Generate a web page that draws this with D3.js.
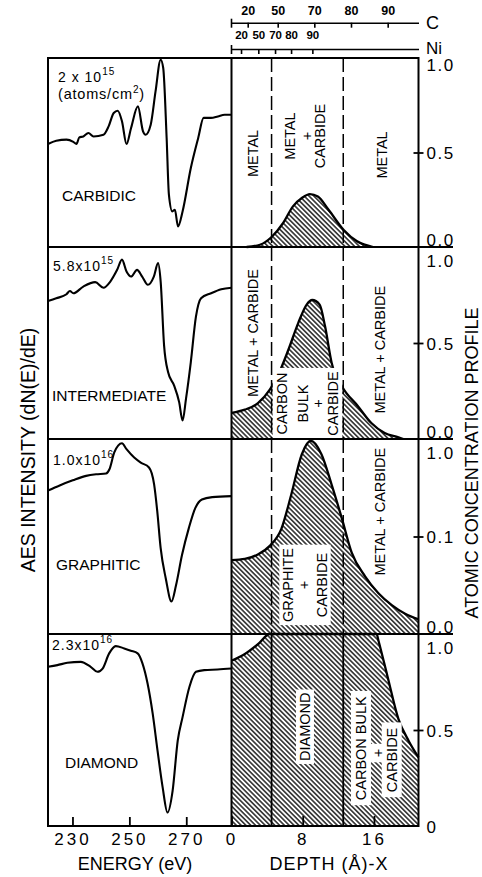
<!DOCTYPE html>
<html>
<head>
<meta charset="utf-8">
<script src="https://cdn.jsdelivr.net/npm/d3@7"></script>
<style>
  body { margin: 0; background: #fff; }
  svg { display: block; }
  text { font-family: "Liberation Sans", Arial, sans-serif; fill: #000; }
</style>
</head>
<body>
<script>
const w = 482;
const h = 877;

// ---- data ----
const panelNames = ['CARBIDIC', 'INTERMEDIATE', 'GRAPHITIC', 'DIAMOND'];
const doseLabels = [['2 x 10', '15'], ['5.8x10', '15'], ['1.0x10', '16'], ['2.3x10', '16']];

// AES spectra: [energy (eV), relative dN(E)/dE]
const carbidicSpectrum = [
  [221.4, 0.545], [224.3, 0.562], [227.9, 0.568], [230.3, 0.556], [231.4, 0.545],
  [232.4, 0.58], [233.8, 0.585], [235.6, 0.603], [237.4, 0.585], [240.9, 0.594],
  [242.7, 0.638], [244.5, 0.709], [245.9, 0.721], [247.4, 0.665], [249.0, 0.545],
  [250.6, 0.63], [253.0, 0.744], [254.8, 0.612], [255.7, 0.594], [257.5, 0.647],
  [259.2, 0.823], [261.0, 0.991], [261.9, 0.947], [263.1, 0.577], [263.9, 0.277],
  [265.1, 0.188], [266.0, 0.197], [267.1, 0.109], [268.7, 0.188], [271.6, 0.418],
  [274.2, 0.577], [276.1, 0.683], [278.7, 0.683], [281.1, 0.691], [283.5, 0.7],
  [285.9, 0.7]
];
const intermediateSpectrum = [
  [221.4, 0.719], [224.3, 0.733], [227.9, 0.754], [229.1, 0.771], [230.3, 0.759],
  [233.8, 0.794], [238.0, 0.817], [240.9, 0.788], [243.3, 0.82], [245.7, 0.881],
  [247.4, 0.934], [249.0, 0.872], [250.6, 0.846], [252.7, 0.881], [254.5, 0.846],
  [256.5, 0.803], [258.6, 0.846], [260.1, 0.916], [261.0, 0.82], [262.2, 0.488],
  [263.6, 0.349], [265.7, 0.279], [267.5, 0.192], [268.7, 0.096], [269.9, 0.209],
  [271.6, 0.401], [273.4, 0.637], [275.2, 0.733], [278.7, 0.759], [282.3, 0.78],
  [285.9, 0.788]
];
const graphiticSpectrum = [
  [221.4, 0.736], [225.5, 0.762], [230.1, 0.788], [234.8, 0.811], [238.3, 0.819],
  [241.8, 0.823], [243.0, 0.845], [244.7, 0.931], [247.4, 0.978], [249.0, 0.948],
  [251.7, 0.905], [254.0, 0.879], [256.9, 0.854], [258.7, 0.767], [259.8, 0.63],
  [261.0, 0.44], [262.8, 0.285], [264.8, 0.167], [266.4, 0.25], [268.5, 0.405],
  [270.9, 0.543], [273.2, 0.647], [275.5, 0.69], [279.1, 0.702], [285.9, 0.707]
];
const diamondSpectrum = [
  [221.4, 0.829], [224.7, 0.838], [228.2, 0.85], [232.9, 0.855], [236.4, 0.829],
  [238.8, 0.803], [240.6, 0.82], [242.9, 0.899], [245.2, 0.937], [248.2, 0.925],
  [250.5, 0.913], [252.9, 0.899], [254.6, 0.847], [256.4, 0.742], [258.2, 0.585],
  [259.9, 0.393], [261.7, 0.201], [263.4, 0.07], [265.2, 0.183], [267.0, 0.445],
  [268.7, 0.567], [271.1, 0.724], [273.4, 0.803], [276.3, 0.812], [281.0, 0.815],
  [285.9, 0.82]
];

// carbon concentration profiles: [depth (A), fraction]
const carbidicProfile = [
  [1.7, 0], [3.2, 0.012], [4.5, 0.053], [5.8, 0.127], [6.9, 0.215], [7.9, 0.259],
  [8.8, 0.28], [9.7, 0.267], [10.9, 0.197], [12.6, 0.09], [14.1, 0.03], [15.9, 0]
];
const intermediateProfile = [
  [0, 0.136], [1.5, 0.153], [3.0, 0.188], [4.3, 0.257], [5.25, 0.335], [6.4, 0.466],
  [7.5, 0.605], [8.44, 0.7], [9.07, 0.724], [9.9, 0.7], [10.5, 0.588], [11.25, 0.396],
  [12.4, 0.275], [14.2, 0.171], [15.7, 0.083], [17.2, 0.031], [18.75, 0.009], [19.3, 0]
];
const graphiticProfile = [
  [0, 0.379], [1.5, 0.385], [3.0, 0.409], [4.3, 0.452], [5.6, 0.539], [6.7, 0.713],
  [7.9, 0.922], [8.9, 0.991], [10.1, 0.922], [11.25, 0.765], [12.4, 0.592], [13.5, 0.417],
  [15.0, 0.296], [16.5, 0.209], [18.0, 0.148], [19.5, 0.104], [21, 0.075]
];
const diamondProfile = [
  [0, 0.861], [1.5, 0.896], [3.0, 0.948], [4.3, 1.0], [16.3, 1.0], [16.5, 0.966],
  [17.5, 0.783], [18.75, 0.557], [19.9, 0.443], [21, 0.358]
];

const spectra = [carbidicSpectrum, intermediateSpectrum, graphiticSpectrum, diamondSpectrum];
const profiles = [carbidicProfile, intermediateProfile, graphiticProfile, diamondProfile];

const boundaryDepths = [4.5, 12.55];
const energyTicks = [230, 250, 270];
const depthTicks = [0, 8, 16];
const rightLabels = [
  ['1.0', '0.5', '0.0'],
  ['1.0', '0.5', '0.0'],
  ['1.0', '0.1', '0.0'],
  ['1.0', '0.5', '0']
];
// composition scales along the depth axis
const cTickDepths = [1.82, 5.19, 9.3, 13.42, 17.54];
const cTickLabels = ['20', '50', '70', '80', '90'];
const niTickDepths = [1.07, 3.01, 4.89, 6.69, 9.08];
const niTickLabels = ['20', '50', '70', '80', '90'];

// region notes, placed in (depth, fraction) of each panel
const regionNotes = [
  [
    { box: null, items: [['METAL', 2.45, 0.495]] },
    { box: null, items: [['METAL', 6.57, 0.587], ['+', 8.44, 0.587], ['CARBIDE', 9.94, 0.587]] },
    { box: null, items: [['METAL', 16.87, 0.487]] }
  ],
  [
    { box: null, items: [['METAL + CARBIDE', 2.45, 0.552]] },
    { box: 'union', items: [['CARBON', 5.64, 0.185], ['BULK', 8.06, 0.185], ['+', 9.71, 0.185], ['CARBIDE', 11.43, 0.185]] },
    { box: null, items: [['METAL + CARBIDE', 16.68, 0.465]] }
  ],
  [
    { box: 'union', items: [['GRAPHITE', 6.38, 0.251], ['+', 8.14, 0.251], ['CARBIDE', 10.13, 0.251]] },
    { box: null, items: [['METAL + CARBIDE', 16.68, 0.627]] }
  ],
  [
    { box: 'union', items: [['DIAMOND', 8.25, 0.517]] },
    { box: 'each', items: [['CARBON BULK', 14.54, 0.405], ['+', 16.42, 0.38], ['CARBIDE', 17.99, 0.344]] }
  ]
];

// ---- layout ----
const L = 48;
const M = 231.5;
const R = 418.5;
const edges = [58, 247, 439, 634, 826]; // panel borders top to bottom

const svg = d3.select('body').append('svg').attr('width', w).attr('height', h);

const defs = svg.append('defs');
defs
  .append('pattern')
  .attr('id', 'hatch')
  .attr('patternUnits', 'userSpaceOnUse')
  .attr('width', 8)
  .attr('height', 3.4)
  .attr('patternTransform', 'rotate(45)')
  .append('line')
  .attr('x1', 0)
  .attr('x2', 8)
  .attr('y1', 1.7)
  .attr('y2', 1.7)
  .attr('stroke', '#000')
  .attr('stroke-width', 1.3);

const xE = d3.scaleLinear().domain([221.4, 285.9]).range([L, M]);
const xD = d3.scaleLinear().domain([0, 21]).range([M, R]);

const fillLayer = svg.append('g');
const boxLayer = svg.append('g');
const lineLayer = svg.append('g');
const textLayer = svg.append('g');
const frameLayer = svg.append('g');

const whiteBox = (rects, padX, padY, bottom) => {
  const x0 = d3.min(rects, (r) => r.left) - padX;
  const x1 = d3.max(rects, (r) => r.right) + padX;
  const y0 = d3.min(rects, (r) => r.top) - padY;
  const y1 = Math.min(d3.max(rects, (r) => r.bottom) + padY, bottom - 1);
  boxLayer
    .append('rect')
    .attr('x', x0)
    .attr('y', y0)
    .attr('width', x1 - x0)
    .attr('height', y1 - y0)
    .attr('fill', '#fff');
};

panelNames.forEach((name, i) => {
  const top = edges[i];
  const bottom = edges[i + 1];
  const y = d3.scaleLinear().domain([0, 1]).range([bottom, top]);

  // hatched concentration profile
  fillLayer
    .append('path')
    .datum(profiles[i])
    .attr('fill', 'url(#hatch)')
    .attr(
      'd',
      d3.area().x((d) => xD(d[0])).y0(bottom).y1((d) => y(d[1])).curve(d3.curveMonotoneX)
    );
  fillLayer
    .append('path')
    .datum(profiles[i])
    .attr('fill', 'none')
    .attr('stroke', '#000')
    .attr('stroke-width', 2.3)
    .attr('d', d3.line().x((d) => xD(d[0])).y((d) => y(d[1])).curve(d3.curveMonotoneX));

  // AES spectrum
  fillLayer
    .append('path')
    .datum(spectra[i])
    .attr('fill', 'none')
    .attr('stroke', '#000')
    .attr('stroke-width', 2.1)
    .attr('stroke-linejoin', 'round')
    .attr('d', d3.line().x((d) => xE(d[0])).y((d) => y(d[1])).curve(d3.curveMonotoneX));

  // region boundaries
  boundaryDepths.forEach((b) => {
    lineLayer
      .append('line')
      .attr('x1', xD(b))
      .attr('x2', xD(b))
      .attr('y1', top)
      .attr('y2', bottom)
      .attr('stroke', '#000')
      .attr('stroke-width', i === 3 ? 1.8 : 1.5)
      .attr('stroke-dasharray', i === 3 ? null : '14,5');
  });

  // region notes
  regionNotes[i].forEach((grp) => {
    const nodes = grp.items.map(([t, d, c]) =>
      textLayer
        .append('text')
        .attr('transform', `translate(${xD(d)},${y(c)}) rotate(-90)`)
        .attr('text-anchor', 'middle')
        .attr('dominant-baseline', 'central')
        .attr('font-size', 14.5)
        .text(t)
        .node()
    );
    const rects = nodes.map((n) => n.getBoundingClientRect());
    if (grp.box === 'union') whiteBox(rects, 1, 3, bottom);
    if (grp.box === 'each') rects.forEach((r) => whiteBox([r], 2, 5, bottom));
  });

  // spectrum labels
  const dose = textLayer
    .append('text')
    .attr('x', L + [10, 5, 5, 4][i])
    .attr('y', top + [24, 24, 25.5, 16][i])
    .attr('font-size', 14)
    .style('letter-spacing', '1px');
  dose.append('tspan').text(doseLabels[i][0]);
  dose.append('tspan').attr('dy', -7).attr('font-size', 10).text(doseLabels[i][1]);
  if (i === 0) {
    const unit = textLayer
      .append('text')
      .attr('x', L + 10)
      .attr('y', top + 40.5)
      .attr('font-size', 14.5)
      .style('letter-spacing', '0.8px');
    unit.append('tspan').text('(atoms/cm');
    unit.append('tspan').attr('dy', -6).attr('font-size', 10).text('2');
    unit.append('tspan').attr('dy', 6).text(')');
  }
  textLayer
    .append('text')
    .attr('x', L + [14, 4, 8, 17][i])
    .attr('y', top + [142.7, 154, 130.7, 133.7][i])
    .attr('font-size', 15.5)
    .text(name);

  // right scale
  const yAxis = d3.axisRight(y).tickValues([0.5]).tickSize(10).tickFormat('');
  frameLayer
    .append('g')
    .attr('transform', `translate(${R - 5},0)`)
    .call(yAxis)
    .call((a) => a.select('.domain').remove())
    .call((a) => a.selectAll('line').attr('stroke-width', 1.8));

  const lab = rightLabels[i];
  const labY = [top + (i === 0 ? 13 : 20), y(0.5) + 6.5, i === 3 ? bottom + 7 : bottom - 1];
  lab.forEach((t, k) => {
    frameLayer
      .append('text')
      .attr('x', R + 8)
      .attr('y', labY[k])
      .attr('font-size', 17)
      .style('letter-spacing', '1.5px')
      .text(t);
  });

  // panel separator, reaching under the right labels
  if (i > 0) {
    frameLayer
      .append('line')
      .attr('x1', L)
      .attr('x2', 453)
      .attr('y1', top)
      .attr('y2', top)
      .attr('stroke', '#000')
      .attr('stroke-width', 2);
  }
});

// frame and divider
frameLayer
  .append('rect')
  .attr('x', L)
  .attr('y', edges[0])
  .attr('width', R - L)
  .attr('height', edges[4] - edges[0])
  .attr('fill', 'none')
  .attr('stroke', '#000')
  .attr('stroke-width', 2);
frameLayer
  .append('line')
  .attr('x1', M)
  .attr('x2', M)
  .attr('y1', edges[0])
  .attr('y2', edges[4])
  .attr('stroke', '#000')
  .attr('stroke-width', 2);

// bottom axes
const styleAxis = (a, size) => {
  a.select('.domain').remove();
  a.selectAll('line').attr('stroke-width', 1.8);
  a.selectAll('text')
    .attr('font-size', size)
    .attr('font-family', '"Liberation Sans", Arial, sans-serif')
    .style('letter-spacing', '3px');
};

svg
  .append('g')
  .attr('transform', `translate(0,${edges[4]})`)
  .call(d3.axisBottom(xE).tickValues(energyTicks).tickSizeInner(-9).tickSizeOuter(0).tickPadding(7))
  .call((a) => styleAxis(a, 17));

svg
  .append('g')
  .attr('transform', `translate(0,${edges[4]})`)
  .call(d3.axisBottom(xD).tickValues(depthTicks).tickSizeInner(-10).tickSizeOuter(0).tickPadding(7))
  .call((a) => styleAxis(a, 17));

svg
  .append('text')
  .attr('x', 135)
  .attr('y', 870)
  .attr('text-anchor', 'middle')
  .attr('font-size', 18)
  .text('ENERGY (eV)');
svg
  .append('text')
  .attr('x', 329)
  .attr('y', 870)
  .attr('text-anchor', 'middle')
  .attr('font-size', 18)
  .style('letter-spacing', '1px')
  .text('DEPTH (Å)-X');

// composition scales on top
const topAxis = (depths, labels, yPos, pad, size) => {
  const g = svg
    .append('g')
    .attr('transform', `translate(0,${yPos})`)
    .call(
      d3
        .axisTop(xD)
        .tickValues(depths)
        .tickFormat((d, k) => labels[k])
        .tickSizeInner(-5)
        .tickSizeOuter(0)
        .tickPadding(pad)
    );
  g.select('.domain').attr('stroke-width', 1.6);
  g.selectAll('line').attr('stroke-width', 1.6);
  g.selectAll('text')
    .attr('font-size', size)
    .attr('font-weight', 'bold')
    .attr('font-family', '"Liberation Sans", Arial, sans-serif');
  g.append('line')
    .attr('x1', xD(0))
    .attr('x2', xD(0))
    .attr('y1', -4)
    .attr('y2', 5)
    .attr('stroke', '#000')
    .attr('stroke-width', 1.6);
};
topAxis(cTickDepths, cTickLabels, 22.7, 7.7, 12.5);
topAxis(niTickDepths, niTickLabels, 49, 10, 11.5);

svg.append('text').attr('x', 426).attr('y', 28.5).attr('font-size', 18).text('C');
svg.append('text').attr('x', 426).attr('y', 53.5).attr('font-size', 17).text('Ni');

// axis titles
svg
  .append('text')
  .attr('transform', 'translate(35,450) rotate(-90)')
  .attr('text-anchor', 'middle')
  .attr('font-size', 19.5)
  .text('AES INTENSITY (dN(E)/dE)');
svg
  .append('text')
  .attr('transform', 'translate(477.5,463) rotate(-90)')
  .attr('text-anchor', 'middle')
  .attr('font-size', 18)
  .text('ATOMIC CONCENTRATION PROFILE');
</script>
</body>
</html>
